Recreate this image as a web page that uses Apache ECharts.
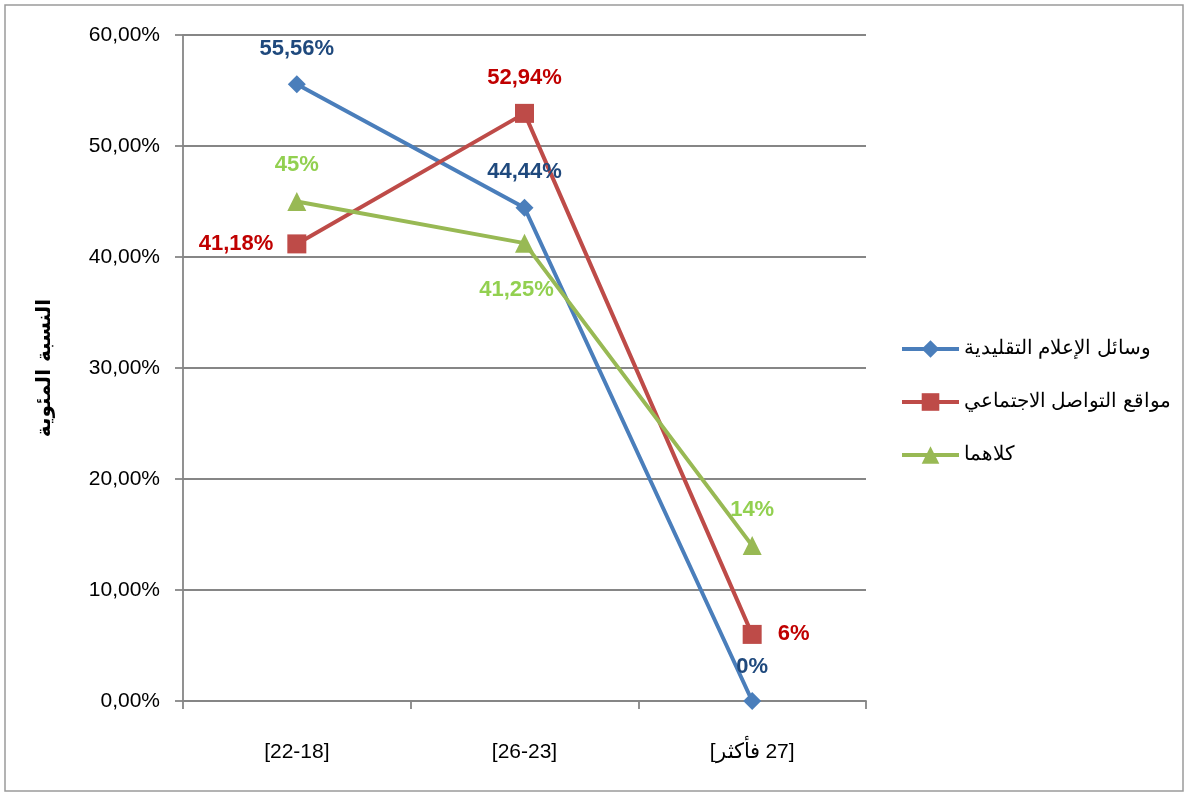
<!DOCTYPE html>
<html><head><meta charset="utf-8">
<script src="https://cdn.jsdelivr.net/npm/echarts@6/dist/echarts.min.js"></script>
<style>html,body{margin:0;padding:0;background:#fff}#c{width:1189px;height:796px}</style>
</head><body><div id="c"></div>
<script>
var categories = ['[22-18]', '[26-23]', '[فأكثر\u200E 27]'];
var seriesNames = ['وسائل الإعلام التقليدية', 'مواقع التواصل الاجتماعي', 'كلاهما'];
var traditional = [55.56, 44.44, 0];
var social = [41.18, 52.94, 6];
var both = [45, 41.25, 14];
var traditionalLabels = ['55,56%', '44,44%', '0%'];
var socialLabels = ['41,18%', '52,94%', '6%'];
var bothLabels = ['45%', '41,25%', '14%'];
var yTicks = [0, 10, 20, 30, 40, 50, 60];

var chart = echarts.init(document.getElementById('c'));
var lblFont = {fontFamily: 'Liberation Sans', fontWeight: 'bold', fontSize: 22};
function mk(vals, labels, positions, dists, offsets) {
  return vals.map(function (v, i) {
    return {value: v, label: {position: positions[i], distance: dists[i], offset: offsets ? offsets[i] : [0, 0], formatter: labels[i]}};
  });
}
chart.setOption({
  animation: false,
  graphic: [{type: 'rect', shape: {x: 5, y: 5, width: 1178, height: 786}, style: {fill: 'none', stroke: '#9a9a9a', lineWidth: 1.5}}],
  grid: {left: 183, right: 323, top: 35, bottom: 95},
  legend: {
    orient: 'vertical', left: 895, top: 334, itemGap: 33, itemWidth: 57, itemHeight: 22,
    lineStyle: {width: 4},
    textStyle: {fontFamily: 'Liberation Sans', fontSize: 19.5, color: '#000'},
    data: seriesNames
  },
  xAxis: {
    type: 'category', data: categories, boundaryGap: true,
    axisLine: {lineStyle: {color: '#868686', width: 1.8}},
    axisTick: {show: true, length: 8, lineStyle: {color: '#868686', width: 1.8}},
    axisLabel: {fontFamily: 'Liberation Sans', fontSize: 21, color: '#000', margin: 41}
  },
  yAxis: {
    type: 'value', min: 0, max: 60, interval: 10,
    name: 'النسبة المئوية', nameLocation: 'middle', nameGap: 128, nameRotate: 90,
    nameTextStyle: {fontFamily: 'DejaVu Sans', fontWeight: 'bold', fontSize: 20, color: '#000'},
    axisLine: {show: true, lineStyle: {color: '#868686', width: 1.8}},
    axisTick: {show: true, length: 8, lineStyle: {color: '#868686', width: 1.8}},
    splitLine: {lineStyle: {color: '#868686', width: 1.8}},
    axisLabel: {fontFamily: 'Liberation Sans', fontSize: 21, color: '#000', margin: 23,
      formatter: function (v) { return v.toFixed(2).replace('.', ',') + '%'; }}
  },
  series: [
    {name: seriesNames[0], type: 'line', symbol: 'diamond', symbolSize: 18,
      itemStyle: {color: '#4A7EBB'}, lineStyle: {width: 4, color: '#4A7EBB'},
      label: Object.assign({show: true, color: '#1F497D'}, lblFont),
      data: mk(traditional, traditionalLabels, ['top', 'top', 'top'], [15, 16, 14])},
    {name: seriesNames[1], type: 'line', symbol: 'rect', symbolSize: 19,
      itemStyle: {color: '#BE4B48'}, lineStyle: {width: 4, color: '#BE4B48'},
      label: Object.assign({show: true, color: '#C00000'}, lblFont),
      data: mk(social, socialLabels, ['left', 'top', 'right'], [14, 15, 16])},
    {name: seriesNames[2], type: 'line', symbol: 'triangle', symbolSize: 19,
      itemStyle: {color: '#98B954'}, lineStyle: {width: 4, color: '#98B954'},
      label: Object.assign({show: true, color: '#92D050'}, lblFont),
      data: mk(both, bothLabels, ['top', 'bottom', 'top'], [16, 26, 15], [[0, 0], [-8, 0], [0, 0]])}
  ]
});
</script></body></html>
